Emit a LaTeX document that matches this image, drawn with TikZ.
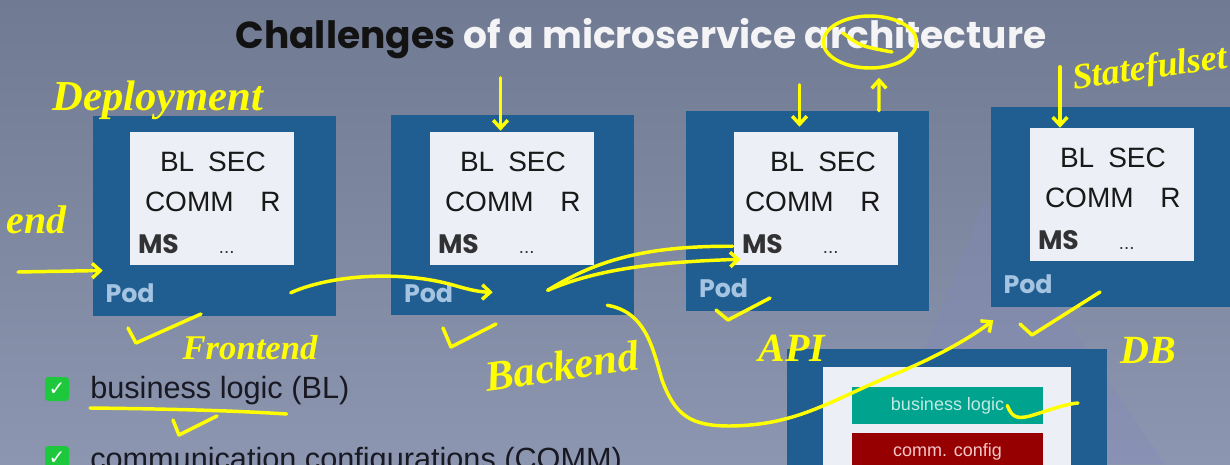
\documentclass[tikz,border=0pt]{standalone}
\usepackage{fontspec}
\setmainfont{Liberation Sans}
\newfontfamily\titlefont{Poppins}
\newfontfamily\handfont{Liberation Serif}
\newfontfamily\symfont{DejaVu Sans}
\usetikzlibrary{arrows.meta,shapes.geometric}

\definecolor{bgtop}{RGB}{112,122,146}
\definecolor{bgbot}{RGB}{140,150,176}
\definecolor{wedge}{RGB}{132,136,190}
\definecolor{podblue}{RGB}{32,94,145}
\definecolor{podwhite}{RGB}{236,240,246}
\definecolor{podtext}{RGB}{25,25,25}
\definecolor{mstext}{RGB}{50,50,52}
\definecolor{podlabel}{RGB}{165,196,226}
\definecolor{titleblack}{RGB}{18,18,18}
\definecolor{titlewhite}{RGB}{244,244,246}
\definecolor{handyellow}{RGB}{255,255,0}
\definecolor{chkgreen}{RGB}{30,200,60}
\definecolor{itemtext}{RGB}{25,25,35}
\definecolor{blteal}{RGB}{0,163,142}
\definecolor{bltext}{RGB}{190,236,228}
\definecolor{cfgred}{RGB}{150,0,0}
\definecolor{cfgtext}{RGB}{245,200,200}

\begin{document}
\begin{tikzpicture}[x=0.75pt,y=0.75pt,yscale=-1,xscale=1,
	pod/.style={fill=podblue,minimum width=182.25pt,minimum height=150pt,inner sep=0pt},
	podin/.style={fill=podwhite,minimum width=123pt,minimum height=99.75pt,inner sep=0pt},
	row/.style={anchor=base west,inner sep=0pt,text=podtext,font=\fontsize{21}{21}\selectfont},
	msrow/.style={anchor=base west,inner sep=0pt,text=mstext,font=\titlefont\bfseries\fontsize{20}{20}\selectfont},
	podlbl/.style={anchor=base west,inner sep=0pt,text=podlabel,font=\titlefont\bfseries\fontsize{19}{19}\selectfont},
	hand/.style={draw=handyellow,line width=2.6pt,line cap=round,line join=round},
	handtxt/.style={text=handyellow,inner sep=0pt,font=\handfont\itshape\bfseries\fontsize{30}{30}\selectfont},
	tip/.style={-{Straight Barb[length=6pt,width=11pt]}},
	chk/.style={fill=chkgreen,rounded corners=2.5pt,minimum size=18pt,inner sep=0pt,text=white,font=\symfont\bfseries\fontsize{15}{15}\selectfont},
	item/.style={anchor=base west,inner sep=0pt,text=itemtext,font=\fontsize{23}{23}\selectfont}]
		
		\useasboundingbox (0,0) rectangle (1230,464);
		\fill[top color=bgtop,bottom color=bgbot] (0,0) rectangle (1230,464);
		\fill[wedge,opacity=0.3] (985,200) -- (1165,464) -- (880,464) -- cycle;
		
		\node[anchor=base,text=titleblack,font=\titlefont\bfseries\fontsize{28.2}{28.2}\selectfont] (title) at (641,48) {Challenges \textcolor{titlewhite}{of a microservice architecture}};
		
		%pods
		\node[pod] (front) at (214,215.5) {};
		\node[pod] (back) at (512.5,215) {};
		\node[pod] (api) at (807.5,211) {};
		\node[pod] (db) at (1112,207) {};
		\node[podin] (frontin) at (212,198.5) {};
		\node[podin] (backin) at (512,198.5) {};
		\node[podin] (apiin) at (816,198) {};
		\node[podin] (dbin) at (1112,194) {};
		
		\node[row] (frontbl) at ([shift={(30,40)}]frontin.north west) {BL\hspace{10.5pt}SEC};
		\node[row] (frontcomm) at ([shift={(15,80)}]frontin.north west) {COMM\hspace{20pt}R};
		\node[msrow] (frontms) at ([shift={(8,122)}]frontin.north west) {MS\hspace{30pt}{\rmfamily\mdseries\fontsize{14}{14}\selectfont ...}};
		\node[row] (backbl) at ([shift={(30,40)}]backin.north west) {BL\hspace{10.5pt}SEC};
		\node[row] (backcomm) at ([shift={(15,80)}]backin.north west) {COMM\hspace{20pt}R};
		\node[msrow] (backms) at ([shift={(8,122)}]backin.north west) {MS\hspace{30pt}{\rmfamily\mdseries\fontsize{14}{14}\selectfont ...}};
		\node[row] (apibl) at ([shift={(36,40)}]apiin.north west) {BL\hspace{10.5pt}SEC};
		\node[row] (apicomm) at ([shift={(11,80)}]apiin.north west) {COMM\hspace{20pt}R};
		\node[msrow] (apims) at ([shift={(8,122)}]apiin.north west) {MS\hspace{30pt}{\rmfamily\mdseries\fontsize{14}{14}\selectfont ...}};
		\node[row] (dbbl) at ([shift={(30,40)}]dbin.north west) {BL\hspace{10.5pt}SEC};
		\node[row] (dbcomm) at ([shift={(15,80)}]dbin.north west) {COMM\hspace{20pt}R};
		\node[msrow] (dbms) at ([shift={(8,122)}]dbin.north west) {MS\hspace{30pt}{\rmfamily\mdseries\fontsize{14}{14}\selectfont ...}};
		
		\node[podlbl] (frontpod) at ([shift={(13,-13)}]front.south west) {Pod};
		\node[podlbl] (backpod) at ([shift={(13,-13)}]back.south west) {Pod};
		\node[podlbl] (apipod) at ([shift={(13,-14)}]api.south west) {Pod};
		\node[podlbl] (dbpod) at ([shift={(13,-14)}]db.south west) {Pod};
		
		%bottom service
		\fill[podblue] (787,349) rectangle (1107,470);
		\fill[podwhite] (823,367) rectangle (1071,470);
		\node[fill=blteal,minimum width=143.25pt,minimum height=27.75pt,inner sep=0pt,text=bltext,font=\fontsize{13.5}{13.5}\selectfont] (blogic) at (947.5,405.5) {business logic};
		\node[fill=cfgred,minimum width=143.25pt,minimum height=28.5pt,inner sep=0pt,text=cfgtext,font=\fontsize{13.5}{13.5}\selectfont] (cconf) at (947.5,452) {comm. config};
		
		%list
		\node[chk] (chk1) at (57,389) {✓};
		\node[item] (itembl) at (90,398) {business logic (BL)};
		\node[chk] (chk2) at (57,458) {✓};
		\node[item] (itemcomm) at (90,469) {communication configurations (COMM)};
		
		%yellow notes
		\node[handtxt,font=\handfont\itshape\bfseries\fontsize{32}{32}\selectfont] (deploy) at (158,100) {Deployment};
		\node[handtxt,font=\handfont\itshape\bfseries\fontsize{30}{30}\selectfont] (endlbl) at (37,220) {end};
		\node[handtxt,rotate=8,font=\handfont\itshape\bfseries\fontsize{27}{27}\selectfont] (sts) at (1150,70) {Statefulset};
		\node[handtxt,font=\handfont\itshape\bfseries\fontsize{26}{26}\selectfont] (frontlbl) at (250,348) {Frontend};
		\node[handtxt,rotate=8,font=\handfont\itshape\bfseries\fontsize{32}{32}\selectfont] (backlbl) at (562,366) {Backend};
		\node[handtxt] (apilbl) at (792,348) {API};
		\node[handtxt] (dblbl) at (1148,350) {DB};
		\node[draw=handyellow,line width=2.6pt,ellipse,minimum width=70pt,minimum height=39pt] (arch) at (870,42) {};
		\draw[hand] (843,33) .. controls (860,46) .. (892,52);
		
		\coordinate (entry) at (18,272);
		\draw[hand,tip] (entry) -- ([shift={(10.5,55)}]front.west);
		\draw[hand,tip] ([shift={(-45,-23)}]front.south east) .. controls (330,275) and (400,270) .. (453,285) .. controls (470,290) and (480,292) .. ([shift={(102,-23)}]back.south west);
		\coordinate (bkapi) at ([shift={(157,-25)}]back.south west);
		\draw[hand] (bkapi) .. controls (600,258) and (650,246) .. ([shift={(-9,-7)}]apims.base west);
		\draw[hand,tip] (bkapi) .. controls (600,268) and (660,262) .. ([shift={(-1,6)}]apims.base west);
		\coordinate (bkdb) at ([shift={(-27,-10)}]back.south east);
		\draw[hand,tip] (bkdb) .. controls (645,312) and (652,345) .. (662,380) .. controls (675,415) and (690,426) .. (730,426) .. controls (800,425) and (830,400) .. (900,372) .. controls (940,355) and (970,338) .. ([shift={(3,13)}]db.south west);
		\draw[hand,tip] ([xshift=53.6pt]api.north) -- ([shift={(9,8)}]arch.south);
		
		\draw[hand,tip] ([shift={(-12,-37)}]back.north) -- ([shift={(-12,16)}]back.north);
		\draw[hand,tip] ([shift={(-8,-26)}]api.north) -- ([shift={(-8,16)}]api.north);
		\draw[hand,tip] ([shift={(-52,-40)}]db.north) -- ([shift={(-52,21)}]db.north);
		
		\draw[hand] (128,328) -- (136,343) -- (201,314);
		\draw[hand] (443,328) -- (451,347) -- (496,324);
		\draw[hand] (716,310) -- (728,320) -- (770,298);
		\draw[hand] (1020,324) -- (1032,335) -- (1100,292);
		\draw[hand] (173,420) -- (179,435) -- (217,416);
		\draw[hand] ([shift={(0,10)}]itembl.base west) .. controls (180,409) and (240,411) .. ([shift={(-63,16)}]itembl.base east);
		\draw[hand] ([shift={(-36,0)}]blogic.east) .. controls (1012,418) and (1018,419) .. (1030,416) .. controls (1050,410) and (1065,404) .. (1078,403);
		
\end{tikzpicture}
\end{document}
